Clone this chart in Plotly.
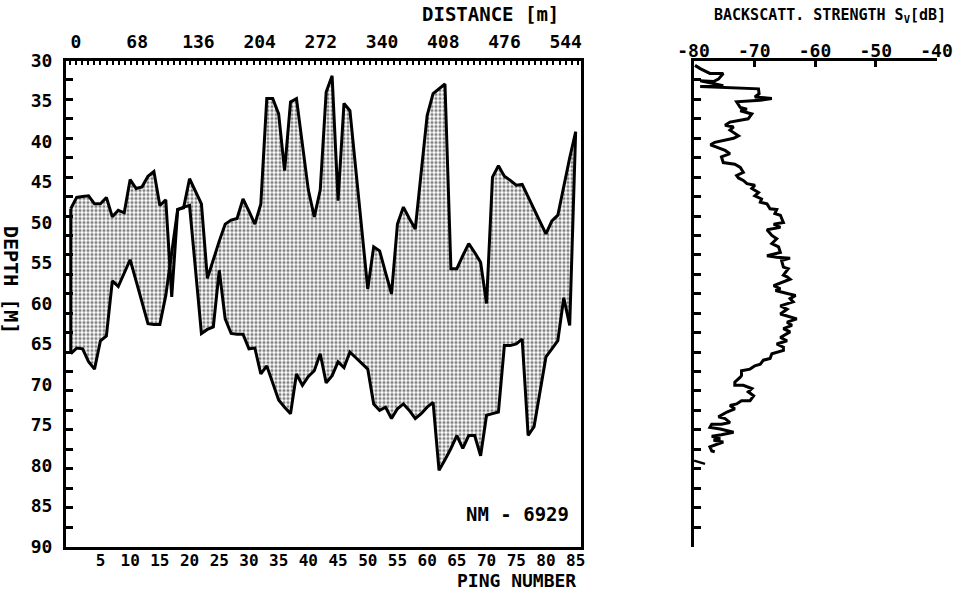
import plotly.graph_objects as go

# ---------------- data ----------------
ping = list(range(0, 86))
upper_depth = [48.3, 46.9, 46.8, 46.7, 47.7, 47.7, 46.9, 49.3, 48.5, 48.8,
               44.7, 45.8, 45.6, 44.3, 43.7, 47.9, 47.2, 59.2, 48.4, 48.2,
               44.6, 46.2, 47.7, 56.9, 54.5, 52.3, 50.2, 49.7, 49.5, 47.1,
               48.6, 50.2, 47.7, 34.7, 34.7, 36.6, 43.6, 35.1, 34.7, 40.5,
               46.0, 49.3, 46.0, 33.9, 31.9, 47.3, 35.3, 36.2, 43.5, 51.0,
               58.2, 53.0, 53.5, 56.2, 58.8, 50.2, 48.1, 49.5, 50.8, 43.8,
               36.8, 34.1, 33.5, 32.9, 55.7, 55.7, 54.1, 52.6, 53.7, 54.9,
               60.0, 44.4, 43.0, 44.3, 44.8, 45.4, 45.3, 46.9, 48.4, 49.9,
               51.4, 49.8, 49.1, 45.5, 42.0, 38.8]
lower_depth = [66.2, 65.5, 65.6, 67.2, 68.1, 64.6, 64.0, 57.2, 57.9, 56.3,
               54.6, 57.2, 59.9, 62.5, 62.6, 62.6, 59.0, 54.0, 48.4, 48.1,
               47.9, 55.8, 63.7, 63.2, 62.9, 55.9, 61.9, 63.7, 63.8, 63.8,
               65.6, 65.5, 68.7, 67.7, 69.8, 71.9, 72.8, 73.6, 68.7, 70.1,
               69.0, 68.3, 66.2, 69.8, 68.9, 67.2, 67.9, 66.0, 66.7, 67.4,
               68.1, 72.4, 73.2, 72.8, 74.2, 73.0, 72.4, 73.2, 74.2, 73.6,
               72.8, 72.2, 80.6, 79.3, 77.9, 76.3, 77.9, 76.3, 76.3, 78.8,
               73.8, 73.6, 73.4, 65.2, 65.2, 65.0, 64.4, 76.3, 75.2, 70.9,
               66.6, 65.6, 64.6, 59.3, 62.7, 38.8]

ping_ticks = [5, 10, 15, 20, 25, 30, 35, 40, 45, 50, 55, 60, 65, 70, 75, 80, 85]
distance_ticks = [0, 68, 136, 204, 272, 340, 408, 476, 544]
depth_ticks = [30, 35, 40, 45, 50, 55, 60, 65, 70, 75, 80, 85, 90]
sv_ticks = [-80, -70, -60, -50, -40]
sv_tick_text = ["-80", "-70", "-60", "-50", "-40"]

profile_depth = [30.6, 31.0, 31.6, 31.6, 32.3, 32.6, 32.5, 33.1, 33.2, 33.5,
                 34.1, 34.5, 34.7, 34.9, 35.1, 35.8, 36.0, 36.2, 36.6, 37.2,
                 37.6, 38.0, 38.2, 38.6, 39.3, 39.6, 40.1, 40.4, 40.7, 41.1,
                 41.5, 41.9, 42.6, 42.8, 43.2, 43.8, 44.2, 44.5, 44.8, 45.2,
                 45.4, 45.8, 46.3, 46.7, 47.1, 47.5, 47.7, 48.3, 48.4, 48.9,
                 49.1, 50.0, 50.2, 50.6, 50.9, 51.6, 52.0, 52.6, 53.0, 53.7,
                 54.1, 54.3, 54.4, 54.7, 55.5, 55.7, 56.5, 56.7, 57.0, 57.8,
                 58.2, 58.4, 58.8, 59.0, 59.4, 59.8, 60.3, 60.7, 61.3, 61.7,
                 61.9, 62.3, 62.7, 63.1, 63.5, 64.2, 64.6, 65.0, 65.4, 65.8,
                 66.2, 66.8, 67.0, 67.5, 67.7, 68.1, 68.3, 68.9, 69.1, 69.7,
                 70.1, 70.1, 70.3, 70.5, 70.9, 71.4, 72.0, 72.0, 72.4, 72.6,
                 73.0, 73.4, 74.0, 74.2, 74.7, 74.9, 74.9, 75.3, 75.5, 75.9,
                 76.2, 76.4, 76.7, 76.9, 77.1, 77.5, 77.7, 78.2, 78.3]
profile_sv = [-79.75, -78.9, -77.3, -75.1, -75.9, -76.7, -78.9, -75.1, -78.9, -69.3,
              -69.2, -69.9, -67.1, -69.0, -72.9, -72.3, -71.2, -72.3, -70.4, -71.0,
              -74.0, -74.8, -73.4, -74.0, -72.6, -73.4, -76.5, -77.2, -76.2, -74.8,
              -74.0, -75.4, -75.1, -73.2, -72.3, -71.8, -72.9, -72.6, -71.8, -71.2,
              -69.9, -70.4, -69.3, -69.9, -68.8, -69.0, -67.9, -67.4, -66.3, -66.6,
              -65.7, -65.2, -66.8, -65.7, -67.9, -67.1, -66.3, -67.1, -66.0, -65.7,
              -67.9, -66.3, -64.1, -65.5, -65.2, -64.4, -65.2, -64.6, -64.1, -66.8,
              -65.7, -66.5, -64.4, -63.2, -64.1, -63.6, -65.7, -64.6, -65.7, -64.1,
              -63.0, -64.6, -63.8, -65.2, -64.1, -65.7, -64.6, -66.3, -65.2, -65.2,
              -67.1, -67.4, -68.5, -69.0, -69.9, -70.7, -72.1, -72.1, -72.3, -73.2,
              -73.2, -71.8, -71.2, -70.4, -71.0, -70.1, -70.7, -72.1, -72.9, -74.0,
              -73.2, -74.5, -75.9, -74.8, -74.0, -75.4, -77.0, -77.3, -75.6, -73.4,
              -75.4, -77.0, -75.6, -76.7, -75.1, -76.5, -77.3, -77.0, -76.5]
tail_depth = [79.4, 79.8]
tail_sv = [-79.9, -78.1]

# ---------------- geometry ----------------
W, H = 961, 593
def px(x):
    return x / W
def py(y):
    return 1 - y / H

left_dom = [px(66), px(581)]
right_dom = [px(693.5), px(936.5)]
y_dom = [py(546.5), py(60.5)]

FONT = "DejaVu Sans Mono"
def f(size):
    return dict(family=FONT, size=size, color="black", weight="bold")

CLEAR = "rgba(0,0,0,0)"

fig = go.Figure()
line = dict(color="black", width=3)

fig.add_trace(go.Scatter(x=ping, y=upper_depth, mode="lines", line=line,
                         xaxis="x", yaxis="y", hoverinfo="skip"))
fig.add_trace(go.Scatter(x=ping, y=lower_depth, mode="lines", line=line,
                         fill="tonexty", fillcolor="white",
                         fillpattern=dict(shape=".", fgcolor="black", bgcolor="white",
                                          size=4, solidity=0.5),
                         xaxis="x", yaxis="y", hoverinfo="skip"))
fig.add_trace(go.Scatter(x=[ping[0], ping[0]], y=[upper_depth[0], lower_depth[0]],
                         mode="lines", line=line, xaxis="x", yaxis="y", hoverinfo="skip"))
# helper traces so the tick-only overlay axes are drawn
fig.add_trace(go.Scatter(x=[], y=[], xaxis="x2", yaxis="y", hoverinfo="skip"))
fig.add_trace(go.Scatter(x=[], y=[], xaxis="x3", yaxis="y", hoverinfo="skip"))
fig.add_trace(go.Scatter(x=[], y=[], xaxis="x", yaxis="y3", hoverinfo="skip"))

fig.add_trace(go.Scatter(x=profile_sv, y=profile_depth, mode="lines", line=line,
                         xaxis="x4", yaxis="y2", hoverinfo="skip"))
fig.add_trace(go.Scatter(x=tail_sv, y=tail_depth, mode="lines",
                         line=dict(color="black", width=2.5),
                         xaxis="x4", yaxis="y2", hoverinfo="skip"))

common = dict(showgrid=False, zeroline=False, linecolor="black", automargin=False)

fig.update_layout(
    width=W, height=H, autosize=False,
    margin=dict(l=0, r=0, t=0, b=0, pad=0),
    paper_bgcolor="white", plot_bgcolor="white",
    showlegend=False,
    xaxis=dict(domain=left_dom, range=[-0.8, 85.9], anchor="y",
               tickmode="array", tickvals=ping_ticks, ticks="",
               ticklabelstandoff=-3,
               showline=True, linewidth=3, mirror=True,
               tickfont=f(16), **common),
    xaxis2=dict(overlaying="x", side="top", anchor="y", range=[-11.1, 561],
                tickmode="array", tickvals=distance_ticks,
                ticks="outside", ticklen=4, tickcolor=CLEAR,
                showline=False, tickfont=f(18), **common),
    xaxis3=dict(overlaying="x", side="top", anchor="y", range=[-11.1, 561],
                tickmode="linear", tick0=0, dtick=6.8, ticks="inside",
                ticklen=4, tickwidth=1.5, tickcolor="black", showticklabels=False,
                showline=False, **common),
    yaxis=dict(domain=y_dom, range=[90, 30], anchor="x",
               tickmode="array", tickvals=depth_ticks,
               ticks="outside", ticklen=7, tickcolor=CLEAR,
               showline=True, linewidth=3, mirror=True,
               tickfont=f(18), **common),
    yaxis3=dict(overlaying="y", side="left", anchor="x", range=[90, 30],
                tickmode="linear", tick0=30, dtick=2.4, ticks="inside",
                ticklen=7, tickwidth=2.5, tickcolor="black", showticklabels=False,
                showline=False, **common),
    xaxis4=dict(domain=right_dom, range=[-80, -40], anchor="y2", side="top",
                tickmode="array", tickvals=sv_ticks, ticktext=sv_tick_text,
                ticks="inside", ticklen=6, tickwidth=2.5, tickcolor="black",
                ticklabelstandoff=-7,
                showline=True, linewidth=3, tickfont=f(18), **common),
    yaxis2=dict(domain=y_dom, range=[90, 30], anchor="x4",
                tickmode="linear", tick0=30, dtick=2.4, ticks="inside",
                ticklen=7, tickwidth=2.5, tickcolor="black", showticklabels=False,
                showline=True, linewidth=3, **common),
)

ann = [
    dict(text="DISTANCE [m]", x=px(490), y=py(14), yanchor="middle", font=f(19)),
    dict(text="PING NUMBER", x=px(516), y=py(593), yanchor="bottom", font=f(18)),
    dict(text="NM - 6929", x=px(517), y=py(514), yanchor="middle", font=f(19)),
    dict(text="DEPTH [M]", x=px(11), y=py(280), yanchor="middle", font=f(20), textangle=90),
    dict(text="BACKSCATT. STRENGTH S<sub>V</sub>[dB]", x=px(830), y=py(15),
         yanchor="middle", font=f(15)),
]
for a in ann:
    fig.add_annotation(xref="paper", yref="paper", xanchor="center",
                       showarrow=False, **a)

fig.write_html("out.html")
